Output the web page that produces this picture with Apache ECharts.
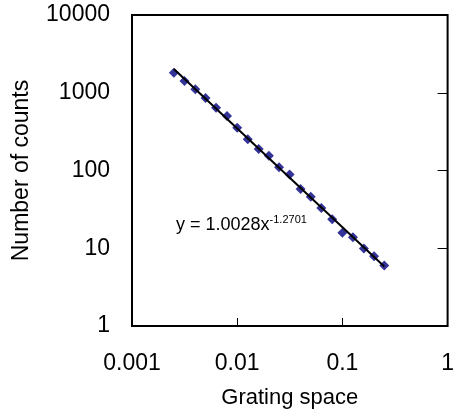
<!DOCTYPE html>
<html>
<head>
<meta charset="utf-8">
<script src="https://cdn.jsdelivr.net/npm/echarts@6/dist/echarts.min.js"></script>
<style>
  html, body { margin: 0; padding: 0; background: #fff; }
  #chart { width: 457px; height: 416px; }
</style>
</head>
<body>
<div id="chart"></div>
<script>
// grating space vs counts
const gratingSpace = [0.0025, 0.00315, 0.004, 0.005, 0.0063, 0.008, 0.01, 0.0126, 0.016, 0.02,
  0.025, 0.0315, 0.04, 0.05, 0.063, 0.08, 0.1, 0.126, 0.16, 0.2, 0.25];
const counts = [1810, 1420, 1110, 856, 642, 502, 355, 252, 189, 155,
  110, 89, 58, 46, 33, 23.6, 15.8, 13.8, 9.9, 7.9, 6.0];

// power trendline end points
const trendX = [0.0025, 0.25];
const trendY = [2018, 5.82];

const xTickLabels = ["0.001", "0.01", "0.1", "1"];
const yTickLabels = ["1", "10", "100", "1000", "10000"];

const chart = echarts.init(document.getElementById("chart"));
const font = "Liberation Sans, Arial, sans-serif";

const option = {
  animation: false,
  grid: {
    left: 132, right: 2, top: 15, bottom: 90,
    show: true, borderColor: "#000", borderWidth: 2, backgroundColor: "transparent"
  },
  xAxis: {
    type: "log", logBase: 10, min: 0.001, max: 1,
    name: "Grating space", nameLocation: "middle", nameGap: 61,
    nameTextStyle: { fontFamily: font, fontSize: 22, color: "#000" },
    axisLine: { show: false },
    axisTick: { show: true, inside: true, length: 8, lineStyle: { color: "#000", width: 1 } },
    minorTick: { show: false },
    splitLine: { show: false },
    axisLabel: {
      fontFamily: font, fontSize: 23, color: "#000", margin: 26,
      formatter: v => xTickLabels[Math.round(Math.log10(v)) + 3]
    }
  },
  yAxis: [
    {
      type: "log", logBase: 10, min: 1, max: 10000,
      name: "Number of counts", nameLocation: "middle", nameGap: 99, nameRotate: 90,
      nameTextStyle: { fontFamily: font, fontSize: 23, color: "#000" },
      axisLine: { show: false },
      axisTick: { show: false },
      splitLine: { show: false },
      axisLabel: {
        fontFamily: font, fontSize: 23, color: "#000", margin: 22,
        padding: [7, 0, 0, 0],
        formatter: v => yTickLabels[Math.round(Math.log10(v))]
      }
    },
    {
      type: "log", logBase: 10, min: 1, max: 10000, position: "right",
      axisLine: { show: false },
      axisTick: { show: true, inside: true, length: 10, lineStyle: { color: "#000", width: 1 } },
      axisLabel: { show: false },
      splitLine: { show: false }
    }
  ],
  graphic: [
    {
      type: "text", left: 176, top: 214,
      style: {
        text: "{a|y = 1.0028x}{b|-1.2701}",
        rich: {
          a: { fontFamily: font, fontSize: 18, color: "#000", lineHeight: 22 },
          b: { fontFamily: font, fontSize: 11, color: "#000", verticalAlign: "top", lineHeight: 12 }
        }
      }
    }
  ],
  series: [
    {
      type: "scatter",
      data: gratingSpace.map((x, i) => [x, counts[i]]),
      symbol: "diamond", symbolSize: 10,
      itemStyle: { color: "#000080" },
      z: 2
    },
    {
      type: "line",
      data: trendX.map((x, i) => [x, trendY[i]]),
      showSymbol: false, symbol: "none",
      lineStyle: { color: "#000", width: 2 },
      z: 3
    }
  ]
};

chart.setOption(option);
</script>
</body>
</html>
